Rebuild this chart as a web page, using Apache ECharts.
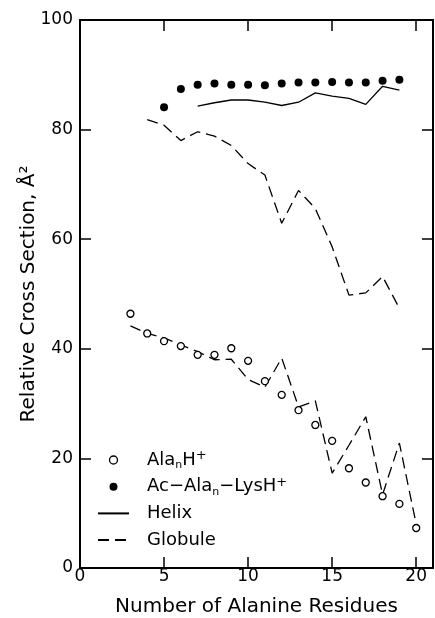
<!DOCTYPE html>
<html><head><meta charset="utf-8">
<script src="https://cdn.jsdelivr.net/npm/echarts@6/dist/echarts.min.js"></script>
<style>html,body{margin:0;padding:0;background:#fff}#c{width:435px;height:618px}</style>
</head><body><div id="c"></div>
<script>
// Data
var alaN = [3,4,5,6,7,8,9,10,11,12,13,14,15,16,17,18,19,20];
var alaValues = [46.4,42.8,41.4,40.5,38.9,38.9,40.1,37.8,34.1,31.6,28.8,26.1,23.2,18.2,15.6,13.1,11.7,7.3];
var acN = [5,6,7,8,9,10,11,12,13,14,15,16,17,18,19];
var acValues = [84.1,87.4,88.2,88.4,88.2,88.2,88.1,88.4,88.6,88.6,88.7,88.6,88.6,88.9,89.1];
var helixN = [7,8,9,10,11,12,13,14,15,16,17,18,19];
var helixValues = [84.3,84.9,85.4,85.4,85.0,84.4,85.0,86.7,86.1,85.7,84.6,87.9,87.2];
var globAcN = [4,5,6,7,8,9,10,11,12,13,14,15,16,17,18,19];
var globAcValues = [81.8,80.8,78.0,79.6,78.8,77.1,73.8,71.7,62.9,68.9,65.6,58.6,49.8,50.2,53.2,47.4];
var globAlaN = [3,4,5,6,7,8,9,10,11,12,13,14,15,16,17,18,19,20];
var globAlaValues = [44.2,42.8,42.0,40.7,39.5,38.0,38.1,34.4,33.0,38.3,29.4,30.5,17.3,22.4,27.6,13.4,22.8,8.0];
var xTickLabels = [0,5,10,15,20];
var xTicks = [5,10,15,20];
var yTickLabels = [0,20,40,60,80,100];
var xTitle = 'Number of Alanine Residues';
var yTitle = 'Relative Cross Section, Å²';

function pairs(xs, ys){ return xs.map(function(x,i){ return [x, ys[i]]; }); }

var FONT = 'DejaVu Sans';
var chart = echarts.init(document.getElementById('c'), null, {renderer:'canvas'});
var axisLineStyle = {color:'#000', width:2};
var hiddenSym = {color:'rgba(0,0,0,0)', borderWidth:0, opacity:0};
chart.setOption({
  animation:false,
  backgroundColor:'#fff',
  color:['#000','#000','#000','#000','#000'],
  grid:{left:80, right:2, top:20, bottom:50, containLabel:false, outerBoundsMode:'none'},
  xAxis:[{
    type:'value', min:0, max:21, interval:5, position:'bottom',
    axisLine:{show:true, onZero:false, lineStyle:axisLineStyle},
    axisTick:{show:true, inside:true, length:11, lineStyle:{color:'#000', width:1.5}, customValues:xTicks},
    axisLabel:{show:true, margin:0, fontFamily:FONT, fontSize:17, color:'#000', customValues:xTickLabels},
    splitLine:{show:false},
    name:xTitle, nameLocation:'middle', nameGap:29, nameMoveOverlap:false,
    nameTextStyle:{fontFamily:FONT, fontSize:20, color:'#000'}
  },{
    type:'value', min:0, max:21, interval:5, position:'top',
    axisLine:{show:true, onZero:false, lineStyle:axisLineStyle},
    axisTick:{show:true, inside:true, length:11, lineStyle:{color:'#000', width:1.5}, customValues:xTicks},
    axisLabel:{show:false}, splitLine:{show:false}
  }],
  yAxis:[{
    type:'value', min:0, max:100, interval:20, position:'left',
    axisLine:{show:true, onZero:false, lineStyle:axisLineStyle},
    axisTick:{show:true, inside:true, length:11, lineStyle:{color:'#000', width:1.5}},
    axisLabel:{show:true, margin:7, fontFamily:FONT, fontSize:17, color:'#000', customValues:yTickLabels},
    splitLine:{show:false},
    name:yTitle, nameLocation:'middle', nameGap:41, nameRotate:90, nameMoveOverlap:false,
    nameTextStyle:{fontFamily:FONT, fontSize:20, color:'#000'}
  },{
    type:'value', min:0, max:100, interval:20, position:'right',
    axisLine:{show:true, onZero:false, lineStyle:axisLineStyle},
    axisTick:{show:true, inside:true, length:11, lineStyle:{color:'#000', width:1.5}},
    axisLabel:{show:false}, splitLine:{show:false}
  }],
  legend:{
    orient:'vertical', left:97, top:449, padding:0,
    itemWidth:31, itemHeight:8, itemGap:4.7,
    data:[
      {name:'AlaH', icon:'circle', itemStyle:{color:'#fff', borderColor:'#000', borderWidth:1.3}},
      {name:'AcAlaLys', icon:'circle', itemStyle:{color:'#000'}},
      {name:'Helix', itemStyle:hiddenSym},
      {name:'Globule', itemStyle:hiddenSym}
    ],
    formatter:function(n){
      if(n==='AlaH') return '{sp|}{t|Ala}{sub|n}{t|H}{sup|+}';
      if(n==='AcAlaLys') return '{sp|}{t|Ac−Ala}{sub|n}{t|−LysH}{sup|+}';
      return '{sp|}{t|'+n+'}';
    },
    textStyle:{
      color:'#000', fontFamily:FONT, fontSize:18, lineHeight:22, height:22,
      rich:{
        sp:{width:13, height:22, lineHeight:22},
        t:{fontFamily:FONT, fontSize:18, color:'#000', lineHeight:22},
        sub:{fontFamily:FONT, fontSize:11, color:'#000', lineHeight:12, verticalAlign:'bottom'},
        sup:{fontFamily:FONT, fontSize:13, color:'#000', lineHeight:12, verticalAlign:'top'}
      }
    }
  },
  series:[
    {name:'Globule', type:'line', data:pairs(globAcN, globAcValues), symbol:'none',
     itemStyle:{color:'#000'}, lineStyle:{color:'#000', width:1.3, type:[11,6]}, z:2},
    {name:'Globule', type:'line', data:pairs(globAlaN, globAlaValues), symbol:'none',
     itemStyle:{color:'#000'}, lineStyle:{color:'#000', width:1.3, type:[11,6]}, z:2},
    {name:'Helix', type:'line', data:pairs(helixN, helixValues), symbol:'none',
     itemStyle:{color:'#000'}, lineStyle:{color:'#000', width:1.3}, z:2},
    {name:'AlaH', type:'scatter', data:pairs(alaN, alaValues), symbol:'circle', symbolSize:7,
     itemStyle:{color:'#fff', borderColor:'#000', borderWidth:1.3, opacity:1}, z:3},
    {name:'AcAlaLys', type:'scatter', data:pairs(acN, acValues), symbol:'circle', symbolSize:8,
     itemStyle:{color:'#000', opacity:1}, z:3}
  ]
});
</script></body></html>
